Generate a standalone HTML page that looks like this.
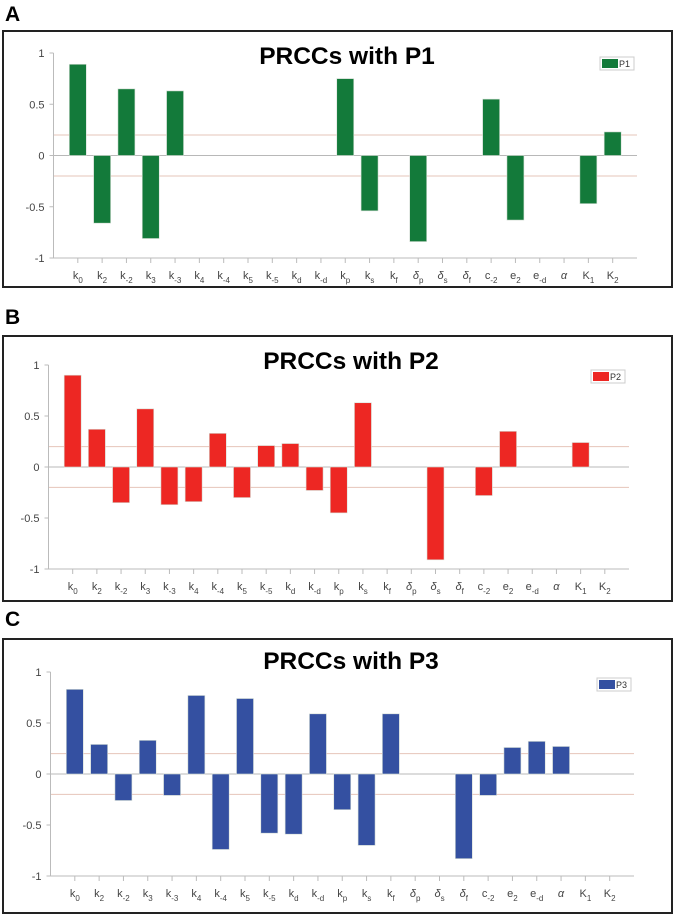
<!DOCTYPE html>
<html><head><meta charset="utf-8">
<style>
html,body{margin:0;padding:0;background:#fff;}
svg{display:block;font-family:"Liberation Sans",Arial,sans-serif;}
</style></head>
<body>
<svg id="fig" width="675" height="916" viewBox="0 0 675 916" xmlns="http://www.w3.org/2000/svg"></svg>
<script>
const categories = ["k|0","k|2","k|-2","k|3","k|-3","k|4","k|-4","k|5","k|-5","k|d","k|-d","k|p","k|s","k|f","δ|p","δ|s","δ|f","c|-2","e|2","e|-d","α|","K|1","K|2"];
const valuesP1 = [0.89,-0.66,0.65,-0.81,0.63,0,0,0,0,0,0,0.75,-0.54,0,-0.84,0,0,0.55,-0.63,0,0,-0.47,0.23];
const valuesP2 = [0.90,0.37,-0.35,0.57,-0.37,-0.34,0.33,-0.30,0.21,0.23,-0.23,-0.45,0.63,0,0,-0.91,0,-0.28,0.35,0,0,0.24,0];
const valuesP3 = [0.83,0.29,-0.26,0.33,-0.21,0.77,-0.74,0.74,-0.58,-0.59,0.59,-0.35,-0.70,0.59,0,0,-0.83,-0.21,0.26,0.32,0.27,0,0];
const yTicks = [1,0.5,0,-0.5,-1];
const yTickLabels = ["1","0.5","0","-0.5","-1"];
const thresholds = [0.2,-0.2];

const NS="http://www.w3.org/2000/svg";
const svg=document.getElementById('fig');
function mk(tag,attrs,parent){const e=document.createElementNS(NS,tag);for(const k in attrs)e.setAttribute(k,attrs[k]);(parent||svg).appendChild(e);return e;}

const panels=[
 {letter:"A",ly:21,box:[3,31,669,256],ax:53.5,y1:53,ym1:258,xr:637,title:"PRCCs with P1",tx:347,ty:64,leg:[600,57],vals:valuesP1,color:"#137a3a",name:"P1"},
 {letter:"B",ly:324,box:[3,336,669,265],ax:48.5,y1:365,ym1:569,xr:629,title:"PRCCs with P2",tx:351,ty:369,leg:[591,370],vals:valuesP2,color:"#ed2723",name:"P2"},
 {letter:"C",ly:626,box:[3,639,669,274],ax:50.5,y1:672,ym1:876,xr:634,title:"PRCCs with P3",tx:351,ty:669,leg:[597,678],vals:valuesP3,color:"#3450a1",name:"P3"}
];

panels.forEach((p,pi)=>{
 const g=mk('g',{});
 
 
 const L=mk('text',{x:5,y:p.ly,'font-size':21,'font-weight':'bold',fill:'#000'},g);
 L.textContent=p.letter;
 
 
 const b=mk('rect',{x:p.box[0],y:p.box[1],width:p.box[2],height:p.box[3],fill:'#fff',stroke:'#222','stroke-width':2},g);
 
 
 const yS=v=>p.y1+(1-v)/2*(p.ym1-p.y1);
 const step=(p.xr-p.ax)/24;
 const xS=i=>p.ax+(i+1)*step;
 thresholds.forEach(t=>{
  const l=mk('line',{x1:p.ax,x2:p.xr,y1:yS(t),y2:yS(t),stroke:'#e6c4ba','stroke-width':1},g);
  
  
 });
 const z=mk('line',{x1:p.ax,x2:p.xr,y1:yS(0),y2:yS(0),stroke:'#b8b8b8','stroke-width':1},g);
 
 
 const ya=mk('line',{x1:p.ax,x2:p.ax,y1:yS(1),y2:yS(-1),stroke:'#bbb','stroke-width':1},g);
 
 
 yTicks.forEach((t,i)=>{
  mk('line',{x1:p.ax-4,x2:p.ax,y1:yS(t),y2:yS(t),stroke:'#bbb'},g);
  const tx=mk('text',{x:p.ax-9,y:yS(t)+4,'font-size':11,'text-anchor':'end',fill:'#444'},g);
  tx.textContent=yTickLabels[i];
  
  
 });
 const xa=mk('line',{x1:p.ax,x2:p.xr,y1:yS(-1),y2:yS(-1),stroke:'#bbb'},g);
 
 
 categories.forEach((c,i)=>{
  const x=xS(i);
  mk('line',{x1:x,x2:x,y1:yS(-1),y2:yS(-1)+5,stroke:'#bbb'},g);
  const [base,sub]=c.split('|');
  const t=mk('text',{x:x,y:yS(-1)+21,'font-size':11,'text-anchor':'middle',fill:'#444'},g);
  
  
  const s1=mk('tspan',{'font-style':base==='δ'||base==='α'?'italic':'normal'},t);s1.textContent=base;
  if(sub){const s2=mk('tspan',{dy:4,'font-size':8},t);s2.textContent=sub;}
 });
 p.vals.forEach((v,i)=>{
  if(v===0)return;
  const x=xS(i);
  const r=mk('rect',{x:x-8.5,y:Math.min(yS(v),yS(0)),width:17,height:Math.abs(yS(v)-yS(0)),fill:p.color,stroke:'#d8e0d8','stroke-width':0.6},g);
  
  
 });
 const T=mk('text',{x:p.tx,y:p.ty,'font-size':24.5,'font-weight':'bold','text-anchor':'middle',fill:'#000'},g);
 T.textContent=p.title;
 
 
 const lg=mk('g',{},g);
 
 
 mk('rect',{x:p.leg[0],y:p.leg[1],width:34,height:13,fill:'#fff',stroke:'#ccc'},lg);
 mk('rect',{x:p.leg[0]+2,y:p.leg[1]+2,width:16,height:9,fill:p.color},lg);
 const lt=mk('text',{x:p.leg[0]+19,y:p.leg[1]+10,'font-size':9,fill:'#333'},lg);
 lt.textContent=p.name;
 
 
});
</script>
</body></html>
